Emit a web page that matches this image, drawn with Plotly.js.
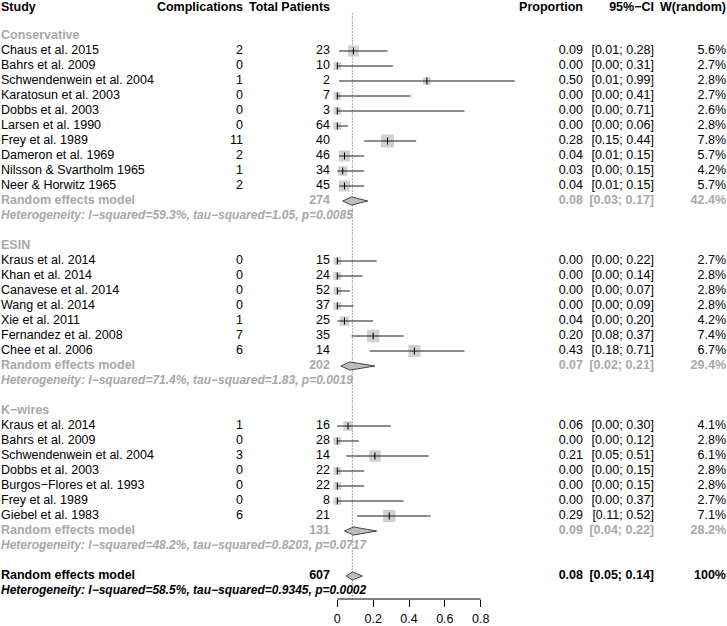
<!DOCTYPE html>
<html>
<head>
<meta charset="utf-8">
<script src="https://cdn.plot.ly/plotly-3.0.1.min.js"></script>
<style>html,body{margin:0;padding:0;background:#fff;}#chart{width:727px;height:626px;}</style>
</head>
<body>
<div id="chart"></div>
<script>
// ---------- DATA ----------
const headerLabels = ["Study", "Complications", "Total Patients", "Proportion", "95%\u2212CI", "W(random)"];

const groupNames = ["Conservative", "ESIN", "K\u2212wires"];

const studyCons = ["Chaus et al. 2015", "Bahrs et al. 2009", "Schwendenwein et al. 2004", "Karatosun et al. 2003", "Dobbs et al. 2003", "Larsen et al. 1990", "Frey et al. 1989", "Dameron et al. 1969", "Nilsson & Svartholm 1965", "Neer & Horwitz 1965"];
const eventsCons = [2, 0, 1, 0, 0, 0, 11, 2, 1, 2];
const totalCons = [23, 10, 2, 7, 3, 64, 40, 46, 34, 45];
const propCons = [0.09, 0.00, 0.50, 0.00, 0.00, 0.00, 0.28, 0.04, 0.03, 0.04];
const lowerCons = [0.01, 0.00, 0.01, 0.00, 0.00, 0.00, 0.15, 0.01, 0.00, 0.01];
const upperCons = [0.28, 0.31, 0.99, 0.41, 0.71, 0.06, 0.44, 0.15, 0.15, 0.15];
const weightCons = [5.6, 2.7, 2.8, 2.7, 2.6, 2.8, 7.8, 5.7, 4.2, 5.7];

const studyEsin = ["Kraus et al. 2014", "Khan et al. 2014", "Canavese et al. 2014", "Wang et al. 2014", "Xie et al. 2011", "Fernandez et al. 2008", "Chee et al. 2006"];
const eventsEsin = [0, 0, 0, 0, 1, 7, 6];
const totalEsin = [15, 24, 52, 37, 25, 35, 14];
const propEsin = [0.00, 0.00, 0.00, 0.00, 0.04, 0.20, 0.43];
const lowerEsin = [0.00, 0.00, 0.00, 0.00, 0.00, 0.08, 0.18];
const upperEsin = [0.22, 0.14, 0.07, 0.09, 0.20, 0.37, 0.71];
const weightEsin = [2.7, 2.8, 2.8, 2.8, 4.2, 7.4, 6.7];

const studyKw = ["Kraus et al. 2014", "Bahrs et al. 2009", "Schwendenwein et al. 2004", "Dobbs et al. 2003", "Burgos\u2212Flores et al. 1993", "Frey et al. 1989", "Giebel et al. 1983"];
const eventsKw = [1, 0, 3, 0, 0, 0, 6];
const totalKw = [16, 28, 14, 22, 22, 8, 21];
const propKw = [0.06, 0.00, 0.21, 0.00, 0.00, 0.00, 0.29];
const lowerKw = [0.00, 0.00, 0.05, 0.00, 0.00, 0.00, 0.11];
const upperKw = [0.30, 0.12, 0.51, 0.15, 0.15, 0.37, 0.52];
const weightKw = [4.1, 2.8, 6.1, 2.8, 2.8, 2.7, 7.1];

const groupTotal = [274, 202, 131];
const groupProp = [0.08, 0.07, 0.09];
const groupLower = [0.03, 0.02, 0.04];
const groupUpper = [0.17, 0.21, 0.22];
const groupWeight = [42.4, 29.4, 28.2];
const groupHet = [
  "Heterogeneity: I\u2212squared=59.3%, tau\u2212squared=1.05, p=0.0085",
  "Heterogeneity: I\u2212squared=71.4%, tau\u2212squared=1.83, p=0.0019",
  "Heterogeneity: I\u2212squared=48.2%, tau\u2212squared=0.8203, p=0.0717"
];

const overallLabel = "Random effects model";
const overallTotal = 607;
const overallProp = 0.084;
const overallLower = 0.05;
const overallUpper = 0.14;
const overallWeight = 100;
const overallHet = "Heterogeneity: I\u2212squared=58.5%, tau\u2212squared=0.9345, p=0.0002";

const xTickVals = [0, 0.2, 0.4, 0.6, 0.8];

// ---------- LAYOUT CONSTANTS ----------
const W = 727, H = 626;
const FONT = "Liberation Sans, Arial, Helvetica, sans-serif";
const GREY = "#a8a8a8";
const FS = 12.5, FS_HET = 12;
const plotBottomPx = 599;
const yDomBottom = (H - plotBottomPx) / H;
const rowPx = 15, row0Px = 6;
const yTop = -row0Px / rowPx;
const yBottom = yTop + plotBottomPx / rowPx;
const headerRow = 0.12;
// forest axis: value 0 at px 337.3, 0.8 at px 480.7
const x0Px = 337.3, pxPerUnit = (480.7 - 337.3) / 0.8;
const forestDomPx = [300, 560];
const forestRange = forestDomPx.map(p => (p - x0Px) / pxPerUnit);
const col = {study: 1, events: 243, total: 330, prop: 583, ci: 654, w: 726};

// ---------- BUILD ROWS ----------
const groups = [
  {studies: studyCons, ev: eventsCons, n: totalCons, p: propCons, lo: lowerCons, hi: upperCons, w: weightCons},
  {studies: studyEsin, ev: eventsEsin, n: totalEsin, p: propEsin, lo: lowerEsin, hi: upperEsin, w: weightEsin},
  {studies: studyKw, ev: eventsKw, n: totalKw, p: propKw, lo: lowerKw, hi: upperKw, w: weightKw}
];

const fmtP = v => v.toFixed(2);
const fmtCI = (a, b) => "[" + a.toFixed(2) + "; " + b.toFixed(2) + "]";
const fmtW = v => (v >= 100 ? v.toFixed(0) : v.toFixed(1)) + "%";

const buckets = {};
function addText(style, align, x, y, t) {
  const key = style + "|" + align;
  if (!buckets[key]) buckets[key] = {style, align, x: [], y: [], text: []};
  buckets[key].x.push(x); buckets[key].y.push(y); buckets[key].text.push(t);
}
const styles = {
  hdr: {color: "#000", size: FS, weight: "bold", style: "normal"},
  norm: {color: "#000", size: FS, weight: "normal", style: "normal"},
  grpB: {color: GREY, size: FS, weight: "bold", style: "normal"},
  hetG: {color: GREY, size: FS_HET, weight: "bold", style: "italic"},
  allB: {color: "#000", size: FS, weight: "bold", style: "normal"},
  hetB: {color: "#000", size: FS_HET, weight: "bold", style: "italic"}
};

// header
addText("hdr", "left", col.study, headerRow, headerLabels[0]);
addText("hdr", "right", col.events, headerRow, headerLabels[1]);
addText("hdr", "right", col.total, headerRow, headerLabels[2]);
addText("hdr", "right", col.prop, headerRow, headerLabels[3]);
addText("hdr", "right", col.ci, headerRow, headerLabels[4]);
addText("hdr", "right", col.w, headerRow, headerLabels[5]);

const sq = {x: [], y: [], s: []};
const ciX = [], ciY = [];
const tk = {x: [], y: []};
const diamonds = [];

let k = 2;
groups.forEach((g, gi) => {
  addText("grpB", "left", col.study, k, groupNames[gi]);
  k++;
  g.studies.forEach((s, i) => {
    addText("norm", "left", col.study, k, s);
    addText("norm", "right", col.events, k, String(g.ev[i]));
    addText("norm", "right", col.total, k, String(g.n[i]));
    addText("norm", "right", col.prop, k, fmtP(g.p[i]));
    addText("norm", "right", col.ci, k, fmtCI(g.lo[i], g.hi[i]));
    addText("norm", "right", col.w, k, fmtW(g.w[i]));
    sq.x.push(g.p[i]); sq.y.push(k); sq.s.push(4.65 * Math.sqrt(g.w[i]));
    ciX.push(g.lo[i], g.hi[i], null); ciY.push(k, k, null);
    tk.x.push(g.p[i]); tk.y.push(k);
    k++;
  });
  addText("grpB", "left", col.study, k, overallLabel);
  addText("grpB", "right", col.total, k, String(groupTotal[gi]));
  addText("grpB", "right", col.prop, k, fmtP(groupProp[gi]));
  addText("grpB", "right", col.ci, k, fmtCI(groupLower[gi], groupUpper[gi]));
  addText("grpB", "right", col.w, k, fmtW(groupWeight[gi]));
  diamonds.push({lo: groupLower[gi], est: groupProp[gi], hi: groupUpper[gi], y: k});
  k++;
  addText("hetG", "left", col.study, k, groupHet[gi]);
  k += 2;
});
addText("allB", "left", col.study, k, overallLabel);
addText("allB", "right", col.total, k, String(overallTotal));
addText("allB", "right", col.prop, k, fmtP(overallProp));
addText("allB", "right", col.ci, k, fmtCI(overallLower, overallUpper));
addText("allB", "right", col.w, k, fmtW(overallWeight));
diamonds.push({lo: overallLower, est: overallProp, hi: overallUpper, y: k});
k++;
addText("hetB", "left", col.study, k, overallHet);

// ---------- TRACES ----------
const traces = [];
// reference line (overall estimate)
traces.push({type: "scatter", mode: "lines", x: [overallProp, overallProp], y: [0.5, yBottom],
  line: {color: "#555", width: 1, dash: "1px,2px"}, hoverinfo: "skip", showlegend: false, xaxis: "x", yaxis: "y"});
// squares
traces.push({type: "scatter", mode: "markers", x: sq.x, y: sq.y,
  marker: {symbol: "square", size: sq.s, color: "#bdbdbd", line: {width: 0}},
  hoverinfo: "skip", showlegend: false, cliponaxis: false, xaxis: "x", yaxis: "y"});
// CI lines
traces.push({type: "scatter", mode: "lines", x: ciX, y: ciY, connectgaps: false,
  line: {color: "#1a1a1a", width: 1}, hoverinfo: "skip", showlegend: false, xaxis: "x", yaxis: "y"});
// estimate ticks
traces.push({type: "scatter", mode: "markers", x: tk.x, y: tk.y,
  marker: {symbol: "line-ns", size: 5, color: "#000", line: {width: 1, color: "#000"}},
  hoverinfo: "skip", showlegend: false, cliponaxis: false, xaxis: "x", yaxis: "y"});
// diamonds
const dh = 0.27;
diamonds.forEach(d => {
  traces.push({type: "scatter", mode: "lines", fill: "toself", fillcolor: "#bdbdbd",
    x: [d.lo, d.est, d.hi, d.est, d.lo], y: [d.y, d.y - dh, d.y, d.y + dh, d.y],
    line: {color: "#444", width: 1}, hoverinfo: "skip", showlegend: false, xaxis: "x", yaxis: "y"});
});
// text columns
Object.values(buckets).forEach(b => {
  const st = styles[b.style];
  traces.push({type: "scatter", mode: "text", x: b.x, y: b.y, text: b.text,
    textposition: b.align === "left" ? "middle right" : "middle left",
    textfont: {family: FONT, size: st.size, color: st.color, weight: st.weight, style: st.style},
    hoverinfo: "skip", showlegend: false, cliponaxis: false, xaxis: "x2", yaxis: "y"});
});

const layout = {
  width: W, height: H,
  margin: {l: 0, r: 0, t: 0, b: 0, pad: 0},
  paper_bgcolor: "#fff", plot_bgcolor: "rgba(0,0,0,0)",
  font: {family: FONT, size: FS, color: "#000"},
  showlegend: false,
  xaxis: {domain: [forestDomPx[0] / W, forestDomPx[1] / W], range: forestRange, anchor: "y",
    showgrid: false, zeroline: false, showline: false,
    tickmode: "array", tickvals: xTickVals, ticktext: xTickVals.map(v => String(v)),
    ticks: "outside", ticklen: 7, tickwidth: 1, tickcolor: "#000",
    tickfont: {family: FONT, size: FS, color: "#000"}, ticklabelstandoff: 1},
  xaxis2: {domain: [0, 1], range: [0, W], anchor: "y", visible: false, showgrid: false, zeroline: false},
  yaxis: {domain: [yDomBottom, 1], range: [yBottom, yTop], anchor: "x", visible: false,
    showgrid: false, zeroline: false},
  shapes: [{type: "line", xref: "x", yref: "paper", x0: xTickVals[0], x1: xTickVals[xTickVals.length - 1],
    y0: yDomBottom, y1: yDomBottom, line: {color: "#000", width: 1}}]
};

Plotly.newPlot("chart", traces, layout, {displayModeBar: false, staticPlot: true});
</script>
</body>
</html>
